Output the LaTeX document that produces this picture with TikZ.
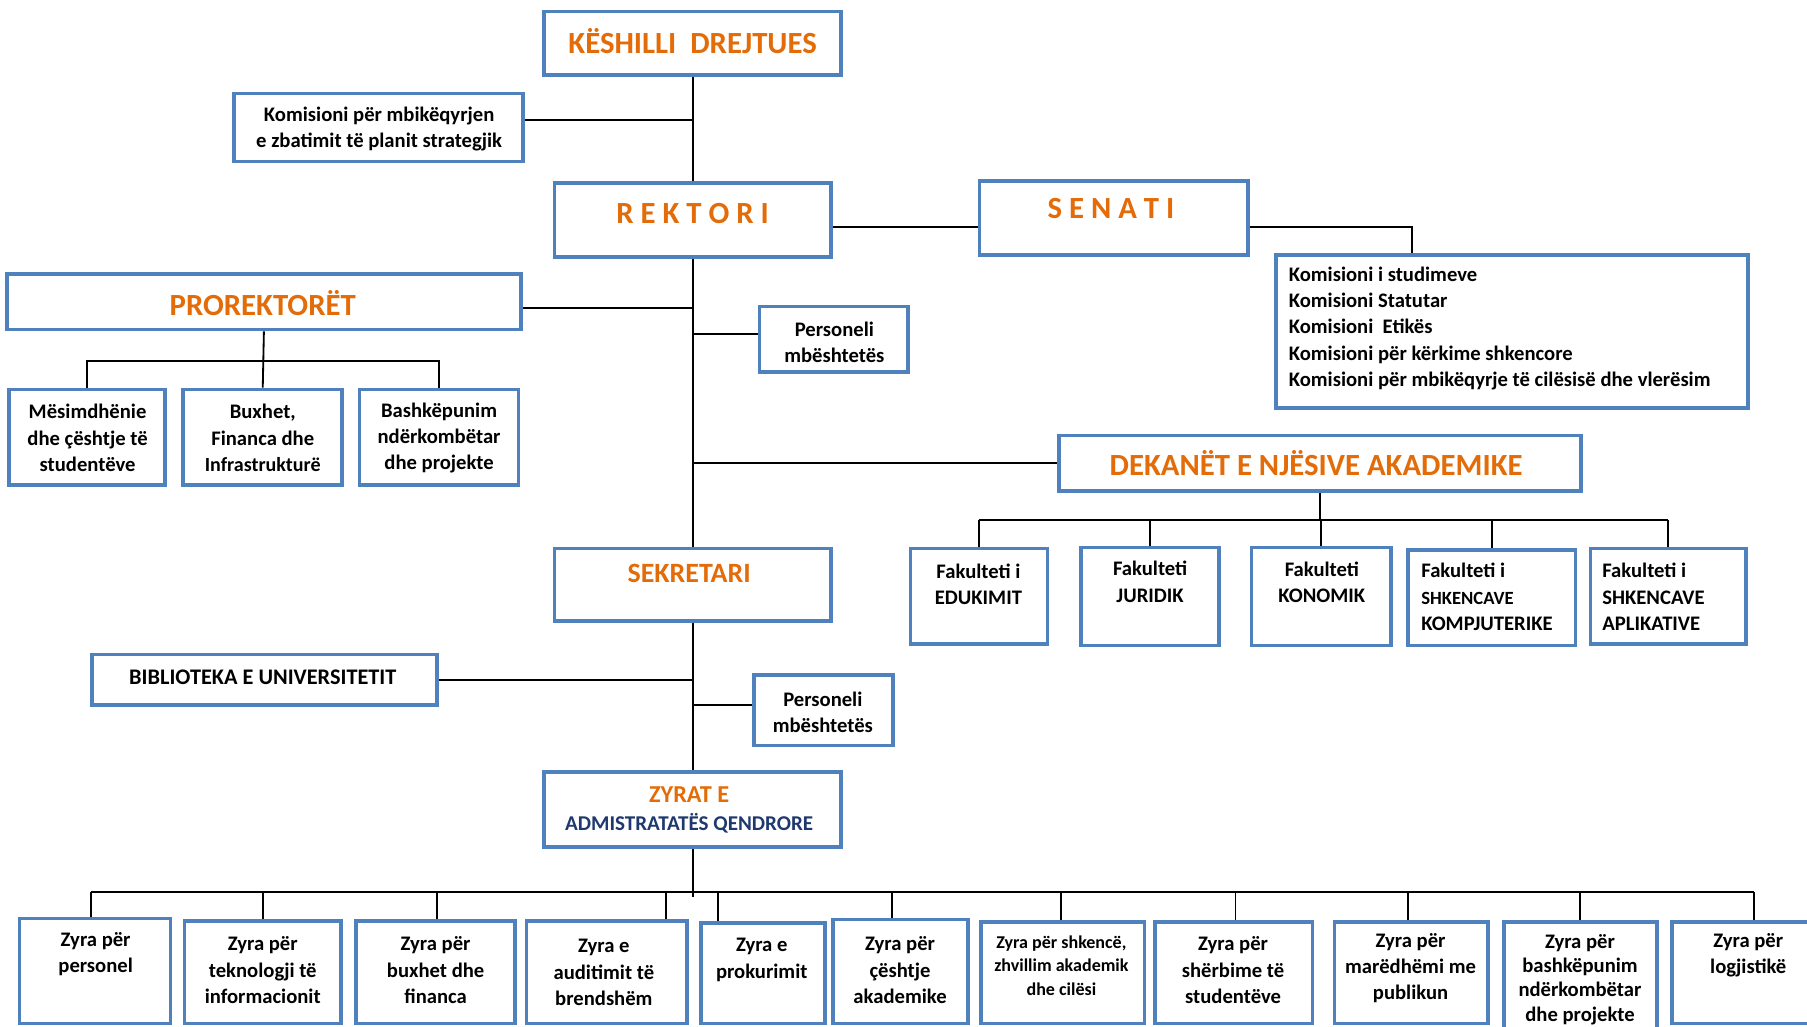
\documentclass[tikz,border=0pt]{standalone}
\usepackage{fontspec}
\setmainfont{Carlito}
\usetikzlibrary{fit, positioning}
\definecolor{boxblue}{RGB}{79,129,189}
\definecolor{titleorange}{RGB}{227,108,9}
\definecolor{navyblue}{RGB}{31,56,110}

\begin{document}
\begin{tikzpicture}[x=0.02cm, y=-0.02cm,
		box/.style={draw=boxblue, line width=1.8pt, inner sep=0pt},
		conn/.style={draw=black, line width=0.9pt},
		title/.style={text=titleorange, font=\bfseries\fontsize{15.2}{17}\selectfont},
		txt/.style={align=center, inner sep=0pt, font=\bfseries\fontsize{10.2}{13}\selectfont},
		list/.style={align=left, inner sep=0pt, anchor=west, font=\bfseries\fontsize{10.2}{13}\selectfont}]
		\useasboundingbox (0,0) rectangle (1568,891);
		\clip (0,0) rectangle (1568,891);

		% top of the chart
		\node[box, fit={(472,10) (730,65)}] (kd) {};
		\node[title] (kd-t) at (601,36) {KËSHILLI\ \ DREJTUES};
		\node[box, fit={(203,81) (454,140)}] (kom) {};
		\node[txt] (kom-t) at (329,112) {Komisioni për mbikëqyrjen\\e zbatimit të planit strategjik};
		\node[box, fit={(481,159) (721,223)}] (rek) {};
		\node[title] (rek-t) at (601,185) {R E K T O R I};
		\node[box, fit={(850,157) (1083,221)}] (sen) {};
		\node[title] (sen-t) at (964,181) {S E N A T I};
		\node[box, fit={(1107,221) (1517,354)}] (com) {};
		\node[list] (com-t) at (1118,285) {Komisioni i studimeve\\Komisioni Statutar\\Komisioni\ \ Etikës\\Komisioni për kërkime shkencore\\Komisioni për mbikëqyrje të cilësisë dhe vlerësim};

		% prorektoret
		\node[box, fit={(6,238) (452,286)}] (pro) {};
		\node[title] (pro-t) at (228,263) {PROREKTORËT};
		\node[box, fit={(659,266) (788,323)}] (per1) {};
		\node[txt] (per1-t) at (724,297) {Personeli\\mbështetës};
		\node[box, fit={(8,338) (143,421)}] (m1) {};
		\node[txt] (m1-t) at (76,380) {Mësimdhënie\\dhe çështje të\\studentëve};
		\node[box, fit={(159,338) (297,421)}] (m2) {};
		\node[txt] (m2-t) at (228,380) {Buxhet,\\Financa dhe\\{\fontsize{9.9}{13}\selectfont Infrastrukturë}};
		\node[box, fit={(312,338) (450,421)}] (m3) {};
		\node[txt] (m3-t) at (381,380) {Bashkëpunim\\ndërkombëtar\\dhe projekte};

		% dekanet and faculties
		\node[box, fit={(919,378) (1372,426)}] (dek) {};
		\node[title] (dek-t) at (1142,402) {DEKANËT E NJËSIVE AKADEMIKE};
		\node[box, fit={(790,476) (909,559)}] (f1) {};
		\node[txt] (f1-t) at (849,507) {Fakulteti i\\EDUKIMIT};
		\node[box, fit={(938,475) (1058,560)}] (f2) {};
		\node[txt] (f2-t) at (998,505) {Fakulteti\\JURIDIK};
		\node[box, fit={(1086,475) (1207,560)}] (f3) {};
		\node[txt] (f3-t) at (1147,505) {Fakulteti\\KONOMIK};
		\node[box, fit={(1222,477) (1367,560)}] (f4) {};
		\node[list] (f4-t) at (1233,518) {Fakulteti i\\{\fontsize{9.2}{13}\selectfont SHKENCAVE}\\KOMPJUTERIKE};
		\node[box, fit={(1380,476) (1515,559)}] (f5) {};
		\node[list] (f5-t) at (1390,518) {Fakulteti i\\SHKENCAVE\\APLIKATIVE};

		% sekretari
		\node[box, fit={(481,476) (721,539)}] (sek) {};
		\node[title, font=\bfseries\fontsize{13.8}{16}\selectfont] (sek-t) at (598,498) {SEKRETARI};
		\node[box, fit={(80,568) (379,612)}] (bib) {};
		\node[txt, font=\bfseries\fontsize{11}{13}\selectfont] (bib-t) at (228,588) {BIBLIOTEKA E UNIVERSITETIT};
		\node[box, fit={(654,586) (775,647)}] (per2) {};
		\node[txt] (per2-t) at (714,618) {Personeli\\mbështetës};
		\node[box, fit={(472,670) (730,735)}] (zyr) {};
		\node[txt, font=\bfseries\fontsize{10.4}{14}\selectfont] (zyr-t) at (598,703) {\textcolor{titleorange}{\fontsize{12}{14}\selectfont ZYRAT E}\\\textcolor{navyblue}{ADMISTRATATËS QENDRORE}};

		% offices
		\node[box, fit={(17,797) (148,888)}] (z1) {};
		\node[txt] (z1-t) at (83,828) {Zyra për\\personel};
		\node[box, fit={(160,799) (296,888)}] (z2) {};
		\node[txt] (z2-t) at (228,842) {Zyra për\\teknologji të\\informacionit};
		\node[box, fit={(309,799) (447,888)}] (z3) {};
		\node[txt] (z3-t) at (378,842) {Zyra për\\buxhet dhe\\financa};
		\node[box, fit={(457,799) (596,888)}] (z4) {};
		\node[txt] (z4-t) at (524,844) {Zyra e\\auditimit të\\brendshëm};
		\node[box, fit={(608,801) (716,888)}] (z5) {};
		\node[txt] (z5-t) at (661,833) {Zyra e\\prokurimit};
		\node[box, fit={(723,798) (840,888)}] (z6) {};
		\node[txt] (z6-t) at (781,842) {Zyra për\\çështje\\akademike};
		\node[box, fit={(851,800) (993,888)}] (z7) {};
		\node[txt, font=\bfseries\fontsize{8.9}{11.5}\selectfont] (z7-t) at (921,838) {Zyra për shkencë,\\zhvillim akademik\\dhe cilësi};
		\node[box, fit={(1002,800) (1139,888)}] (z8) {};
		\node[txt] (z8-t) at (1070,842) {Zyra për\\shërbime të\\studentëve};
		\node[box, fit={(1158,800) (1291,888)}] (z9) {};
		\node[txt] (z9-t) at (1224,840) {Zyra për\\marëdhëmi me\\publikun};
		\node[box, fit={(1305,800) (1438,893)}] (z10) {};
		\node[txt, font=\bfseries\fontsize{10.2}{12}\selectfont] (z10-t) at (1371,850) {Zyra për\\bashkëpunim\\ndërkombëtar\\dhe projekte};
		\node[box, fit={(1451,800) (1593,888)}] (z11) {};
		\node[txt] (z11-t) at (1517,829) {Zyra për\\logjistikë};

		% trunk
		\coordinate (fbar) at (1147,451);
		\coordinate (bar) at (601,774);
		\draw[conn] (kd.south) -- (rek.north);
		\draw[conn] (rek.south) -- (sek.north);
		\draw[conn] (sek.south) -- (zyr.north);
		\draw[conn] (zyr.south) -- ([yshift=-0.08cm]bar);

		% side branches
		\draw[conn] (kom.east |- 0,104) -- (kd.south |- 0,104);
		\draw[conn] (rek.east |- 0,197) -- (sen.west |- 0,197);
		\draw[conn] (sen.east |- 0,197) -| (com.north -| 1225,0);
		\draw[conn] (pro.east |- 0,267) -- (rek.south |- 0,267);
		\draw[conn] (rek.south |- 0,290) -- (per1.west |- 0,290);
		\draw[conn] (rek.south |- dek.west) -- (dek.west);
		\draw[conn] (bib.east) -- (sek.south |- bib.east);
		\draw[conn] (sek.south |- 0,612) -- (per2.west |- 0,612);

		% prorektoret
		\draw[conn] (pro.south) -- (m2.north);
		\draw[conn] (m1.north) -- (m1.north |- 0,313) -- (m3.north |- 0,313) -- (m3.north);

		% faculties
		\draw[conn] (dek.south) -- (dek.south |- fbar);
		\draw[conn] (f1.north |- fbar) -- (f5.north |- fbar);
		\foreach \f in {f1,f2,f3,f4,f5}
			\draw[conn] (\f.north) -- (\f.north |- fbar);

		% offices
		\draw[conn] (bar -| 79,0) -- (bar -| 1522,0);
		\foreach \z/\x in {z1/79, z2/228, z3/379, z4/578, z5/623, z6/774, z7/921, z8/1072, z9/1222, z10/1371, z11/1522}
			\draw[conn] (\z.north -| \x,0) -- (bar -| \x,0);
\end{tikzpicture}
\end{document}
